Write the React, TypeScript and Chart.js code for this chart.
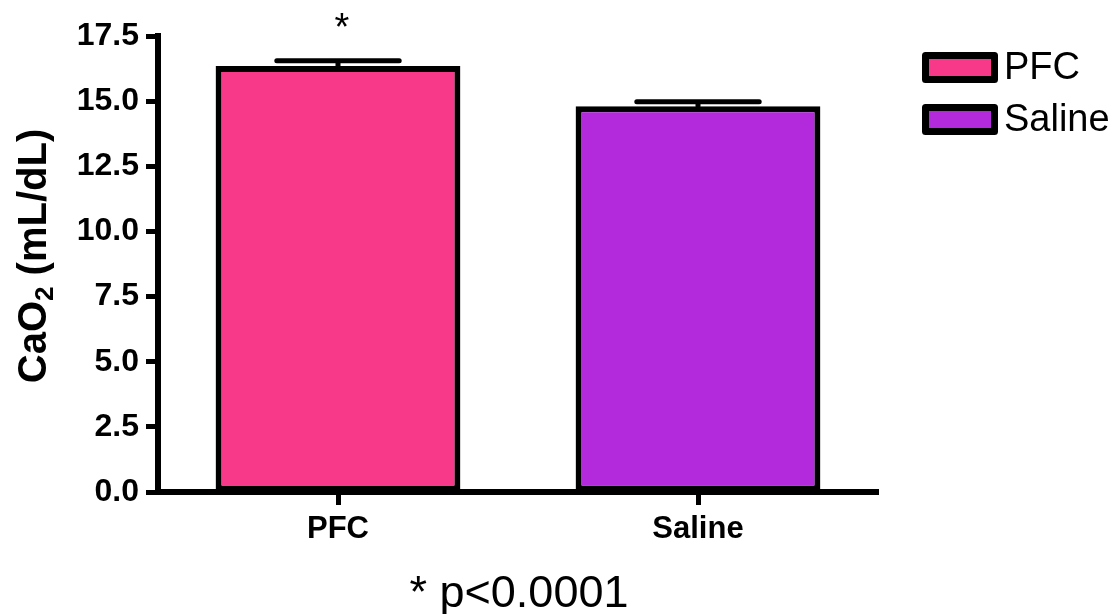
import React, { useEffect, useRef } from 'react';
import { Chart, registerables } from 'chart.js';

Chart.register(...registerables);

// ---- data ----
const CATEGORIES = ['PFC', 'Saline'];
const SERIES_LABELS = ['PFC', 'Saline'];
const MEANS = [16.35, 14.8];
const SEMS = [0.2, 0.18];
const SIG_MARKS = ['*', ''];
const COLORS = ['#F8398A', '#B22ADC'];
const Y_MIN = 0;
const Y_MAX = 17.5;
const Y_STEP = 2.5;
const Y_TITLE_MAIN = 'CaO';
const Y_TITLE_SUB = '2';
const Y_TITLE_REST = ' (mL/dL)';
const FOOTNOTE = '* p<0.0001';

const FONT = '"Liberation Sans", Arial, Helvetica, sans-serif';

const W = 1117;
const H = 614;

const decorPlugin = {
  id: 'decor',
  afterDatasetsDraw(chart: any) {
    const ctx = chart.ctx;
    const yScale = chart.scales.y;
    ctx.save();
    // error bars + significance marks
    chart.data.datasets.forEach((ds: any, i: number) => {
      const meta = chart.getDatasetMeta(i);
      ds.data.forEach((v: any, j: number) => {
        if (v === null || v === undefined) return;
        const bar = meta.data[j];
        const x = bar.x;
        const half = bar.width / 4;
        const yTop = yScale.getPixelForValue(v + SEMS[j]);
        ctx.strokeStyle = '#000';
        ctx.lineWidth = 5;
        ctx.lineCap = 'round';
        ctx.beginPath();
        ctx.moveTo(x, bar.y);
        ctx.lineTo(x, yTop);
        ctx.moveTo(x - half, yTop);
        ctx.lineTo(x + half, yTop);
        ctx.stroke();
        const mark = SIG_MARKS[j];
        if (mark) {
          ctx.fillStyle = '#000';
          ctx.font = `38px ${FONT}`;
          ctx.textAlign = 'center';
          ctx.textBaseline = 'alphabetic';
          ctx.fillText(mark, x + 4, yTop - 21);
        }
      });
    });
    ctx.restore();
  },
  afterDraw(chart: any) {
    const ctx = chart.ctx;
    const area = chart.chartArea;
    ctx.save();
    // y title with subscript
    const cy = (area.top + area.bottom) / 2 - 8;
    ctx.translate(32, cy);
    ctx.rotate(-Math.PI / 2);
    ctx.fillStyle = '#000';
    ctx.textBaseline = 'alphabetic';
    ctx.textAlign = 'left';
    const mainFont = `bold 40px ${FONT}`;
    const subFont = `bold 26px ${FONT}`;
    ctx.font = mainFont;
    const w1 = ctx.measureText(Y_TITLE_MAIN).width;
    const w3 = ctx.measureText(Y_TITLE_REST).width;
    ctx.font = subFont;
    const w2 = ctx.measureText(Y_TITLE_SUB).width;
    const total = w1 + w2 + w3;
    let x0 = -total / 2;
    const base = 14;
    ctx.font = mainFont;
    ctx.fillText(Y_TITLE_MAIN, x0, base);
    x0 += w1;
    ctx.font = subFont;
    ctx.fillText(Y_TITLE_SUB, x0, base + 7);
    x0 += w2;
    ctx.font = mainFont;
    ctx.fillText(Y_TITLE_REST, x0, base);
    ctx.restore();

    // legend
    ctx.save();
    chart.data.datasets.forEach((ds: any, i: number) => {
      const bx = 925.5;
      const by = 55.5 + i * 52;
      const bw = 69;
      const bh = 24;
      ctx.fillStyle = ds.backgroundColor;
      ctx.fillRect(bx, by, bw, bh);
      ctx.strokeStyle = '#000';
      ctx.lineWidth = 7;
      ctx.lineJoin = 'round';
      ctx.strokeRect(bx, by, bw, bh);
      ctx.fillStyle = '#000';
      ctx.font = `38px ${FONT}`;
      ctx.textAlign = 'left';
      ctx.textBaseline = 'middle';
      ctx.fillText(ds.label, 1004, by + bh / 2 + 1);
    });
    // footnote
    ctx.fillStyle = '#000';
    ctx.font = `45px ${FONT}`;
    ctx.textAlign = 'center';
    ctx.textBaseline = 'alphabetic';
    ctx.fillText(FOOTNOTE, 519, 607);
    ctx.restore();
  },
};

export default function App() {
  const ref = useRef<HTMLCanvasElement | null>(null);
  useEffect(() => {
    if (!ref.current) return;
    const datasets = SERIES_LABELS.map((lab, i) => ({
      label: lab,
      data: CATEGORIES.map((_, j) => (j === i ? MEANS[i] : null)),
      backgroundColor: COLORS[i],
      borderColor: '#000',
      borderWidth: 6,
      borderSkipped: false,
      grouped: false,
      barPercentage: 0.68,
      categoryPercentage: 1,
    }));
    const chart = new Chart(ref.current, {
      type: 'bar',
      data: { labels: CATEGORIES, datasets },
      options: {
        responsive: false,
        animation: false,
        layout: { padding: { top: 36, right: W - 878, left: 0, bottom: 0 } },
        plugins: { legend: { display: false }, tooltip: { enabled: false } },
        scales: {
          x: {
            offset: true,
            grid: {
              offset: false,
              drawOnChartArea: false,
              drawTicks: true,
              tickLength: 13,
              tickWidth: 5,
              tickColor: '#000',
            },
            border: { display: true, color: '#000', width: 6 },
            ticks: {
              color: '#000',
              padding: 6,
              font: { family: FONT, size: 31, weight: 'bold' },
            },
            afterFit(scale: any) {
              scale.height = H - 492;
            },
          },
          y: {
            min: Y_MIN,
            max: Y_MAX,
            grid: {
              drawOnChartArea: false,
              drawTicks: true,
              tickLength: 12,
              tickWidth: 5,
              tickColor: '#000',
            },
            border: { display: true, color: '#000', width: 6 },
            ticks: {
              stepSize: Y_STEP,
              color: '#000',
              padding: 7,
              font: { family: FONT, size: 32, weight: 'bold' },
              callback: (v: any) => Number(v).toFixed(1),
            },
            afterFit(scale: any) {
              scale.width = 158;
            },
          },
        },
      },
      plugins: [decorPlugin],
    } as any);
    return () => chart.destroy();
  }, []);
  return (
    <div style={{ position: 'fixed', left: 0, top: 0, width: W, height: H, background: '#fff' }}>
      <canvas ref={ref} width={W} height={H} style={{ display: 'block' }} />
    </div>
  );
}
